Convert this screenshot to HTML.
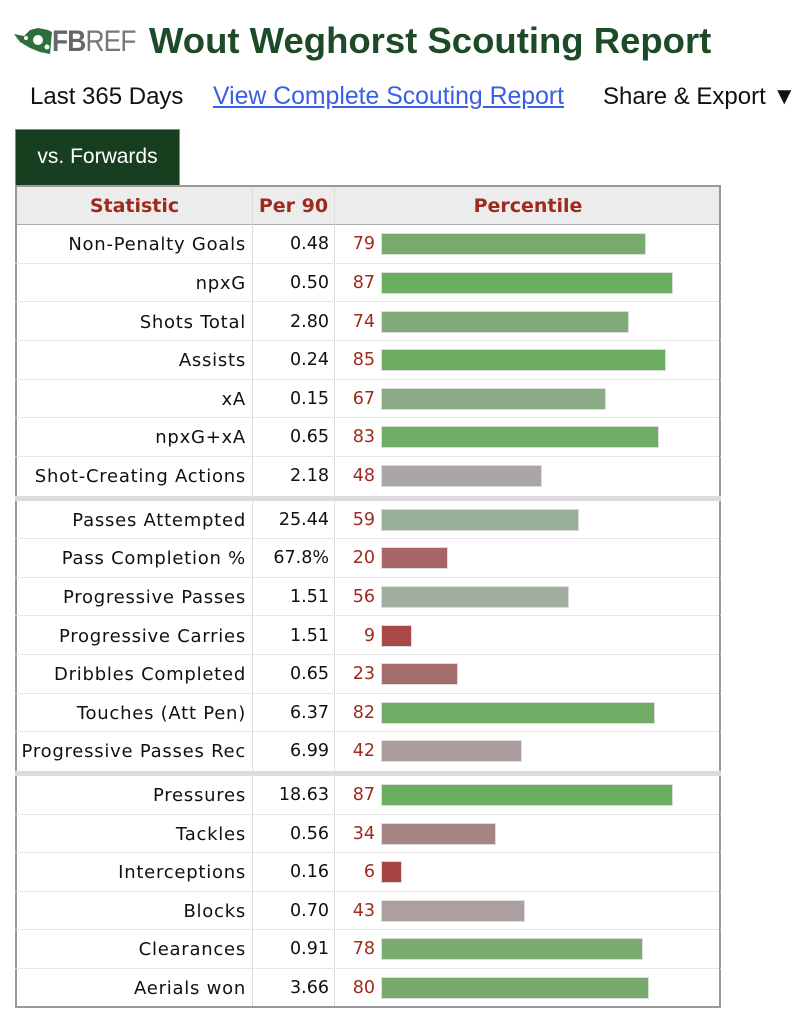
<!DOCTYPE html>
<html><head><meta charset="utf-8"><style>
body{margin:0;width:808px;height:1024px;background:#fff;position:relative;overflow:hidden;font-family:"DejaVu Sans",Verdana,sans-serif}
.a{position:absolute;white-space:nowrap}
.row{position:absolute;left:15px;width:706px;height:38.6px;border-bottom:1px dotted #cfcfcf;box-sizing:border-box}
.lab{position:absolute;right:475px;top:9px;font-size:18px;letter-spacing:0.75px;color:#111}
.val{position:absolute;right:392px;top:9px;font-size:17.5px;color:#111}
.pct{position:absolute;left:320px;width:40px;text-align:right;top:9px;font-size:17.5px;color:#9e2a1e}
.bar{position:absolute;left:366px;top:8px;height:22px;border:1px solid #ddd;box-sizing:border-box}
.sep{position:absolute;left:15px;width:706px;height:5px;background:#dcdcdc}
.hd{position:absolute;top:195px;text-align:center;font-weight:bold;font-size:19px;color:#9e2a1e}
</style></head><body>
<svg class="a" style="left:14px;top:28px" width="38" height="26" viewBox="0 0 38 26"><path d="M0 6 L10 8 L16 2 L24 0 L34 2 L38 4 L36 26 L26 24 L16 20 L6 14 Z" fill="#2e6e3a"/><circle cx="24" cy="12" r="5" fill="#fff"/><circle cx="12" cy="10" r="2" fill="#fff"/><circle cx="33" cy="19" r="2.5" fill="#fff"/></svg>
<div class="a" style="left:52px;top:25px;font-family:'Liberation Sans',sans-serif;font-size:30px;font-weight:bold;color:#666;letter-spacing:-1px;transform:scaleX(0.88);transform-origin:left">FB<span style="font-weight:normal;color:#777">REF</span></div>
<div class="a" style="left:149px;top:20px;font-family:'Liberation Sans',sans-serif;font-size:36.5px;font-weight:bold;color:#1d4a27">Wout Weghorst Scouting Report</div>
<div class="a" style="left:30px;top:83px;font-family:'Liberation Sans',sans-serif;font-size:24px;color:#111">Last 365 Days</div>
<div class="a" style="left:213px;top:83px;font-family:'Liberation Sans',sans-serif;font-size:24.8px;color:#3a5ee5;text-decoration:underline">View Complete Scouting Report</div>
<div class="a" style="left:603px;top:83px;font-family:'Liberation Sans',sans-serif;font-size:24px;color:#111">Share &amp; Export ▼</div>
<div class="a" style="left:15px;top:129px;width:165px;height:56px;background:#173f1f;border:1px solid #888;border-bottom:none;box-sizing:border-box;color:#fff;font-family:'Liberation Sans',sans-serif;font-size:21px;text-align:center;line-height:54px">vs. Forwards</div>
<div class="a" style="left:15px;top:185px;width:706px;height:823px;border:2px solid #999;box-sizing:border-box"></div>
<div class="a" style="left:17px;top:187px;width:702px;height:37px;background:#ececec;border-bottom:1px solid #aaa"></div>
<div class="a" style="left:252px;top:187px;width:1px;height:819px;background:#ddd"></div>
<div class="a" style="left:334px;top:187px;width:1px;height:819px;background:#ddd"></div>
<div class="hd" style="left:17px;width:235px">Statistic</div>
<div class="hd" style="left:253px;width:81px">Per 90</div>
<div class="hd" style="left:335px;width:386px">Percentile</div>

<div class="row" style="top:225.3px"><span class="lab">Non-Penalty Goals</span><span class="val">0.48</span><span class="pct">79</span><div class="bar" style="width:265px;background:#78ab6e"></div></div>
<div class="row" style="top:263.9px"><span class="lab">npxG</span><span class="val">0.50</span><span class="pct">87</span><div class="bar" style="width:292px;background:#6aae5f"></div></div>
<div class="row" style="top:302.5px"><span class="lab">Shots Total</span><span class="val">2.80</span><span class="pct">74</span><div class="bar" style="width:248px;background:#80aa78"></div></div>
<div class="row" style="top:341.1px"><span class="lab">Assists</span><span class="val">0.24</span><span class="pct">85</span><div class="bar" style="width:285px;background:#6cad61"></div></div>
<div class="row" style="top:379.7px"><span class="lab">xA</span><span class="val">0.15</span><span class="pct">67</span><div class="bar" style="width:225px;background:#8aab85"></div></div>
<div class="row" style="top:418.3px"><span class="lab">npxG+xA</span><span class="val">0.65</span><span class="pct">83</span><div class="bar" style="width:278px;background:#70ad65"></div></div>
<div class="row" style="top:456.9px;border-bottom:none"><span class="lab">Shot-Creating Actions</span><span class="val">2.18</span><span class="pct">48</span><div class="bar" style="width:161px;background:#aba6a6"></div></div>
<div class="sep" style="top:495.5px"></div>
<div class="row" style="top:500.7px"><span class="lab">Passes Attempted</span><span class="val">25.44</span><span class="pct">59</span><div class="bar" style="width:198px;background:#9aaf98"></div></div>
<div class="row" style="top:539.3px"><span class="lab">Pass Completion %</span><span class="val">67.8%</span><span class="pct">20</span><div class="bar" style="width:67px;background:#a66666"></div></div>
<div class="row" style="top:577.9px"><span class="lab">Progressive Passes</span><span class="val">1.51</span><span class="pct">56</span><div class="bar" style="width:188px;background:#a2aea0"></div></div>
<div class="row" style="top:616.5px"><span class="lab">Progressive Carries</span><span class="val">1.51</span><span class="pct">9</span><div class="bar" style="width:31px;background:#a84848"></div></div>
<div class="row" style="top:655.1px"><span class="lab">Dribbles Completed</span><span class="val">0.65</span><span class="pct">23</span><div class="bar" style="width:77px;background:#a46c6c"></div></div>
<div class="row" style="top:693.7px"><span class="lab">Touches (Att Pen)</span><span class="val">6.37</span><span class="pct">82</span><div class="bar" style="width:274px;background:#71ac66"></div></div>
<div class="row" style="top:732.3px;border-bottom:none"><span class="lab">Progressive Passes Rec</span><span class="val">6.99</span><span class="pct">42</span><div class="bar" style="width:141px;background:#aa9d9d"></div></div>
<div class="sep" style="top:771px"></div>
<div class="row" style="top:776px"><span class="lab">Pressures</span><span class="val">18.63</span><span class="pct">87</span><div class="bar" style="width:292px;background:#6aae5f"></div></div>
<div class="row" style="top:814.6px"><span class="lab">Tackles</span><span class="val">0.56</span><span class="pct">34</span><div class="bar" style="width:115px;background:#a68584"></div></div>
<div class="row" style="top:853.2px"><span class="lab">Interceptions</span><span class="val">0.16</span><span class="pct">6</span><div class="bar" style="width:21px;background:#a84444"></div></div>
<div class="row" style="top:891.8px"><span class="lab">Blocks</span><span class="val">0.70</span><span class="pct">43</span><div class="bar" style="width:144px;background:#ab9f9f"></div></div>
<div class="row" style="top:930.4px"><span class="lab">Clearances</span><span class="val">0.91</span><span class="pct">78</span><div class="bar" style="width:262px;background:#79ab6f"></div></div>
<div class="row" style="top:969px;border-bottom:none"><span class="lab">Aerials won</span><span class="val">3.66</span><span class="pct">80</span><div class="bar" style="width:268px;background:#76ab6d"></div></div>
</body></html>
